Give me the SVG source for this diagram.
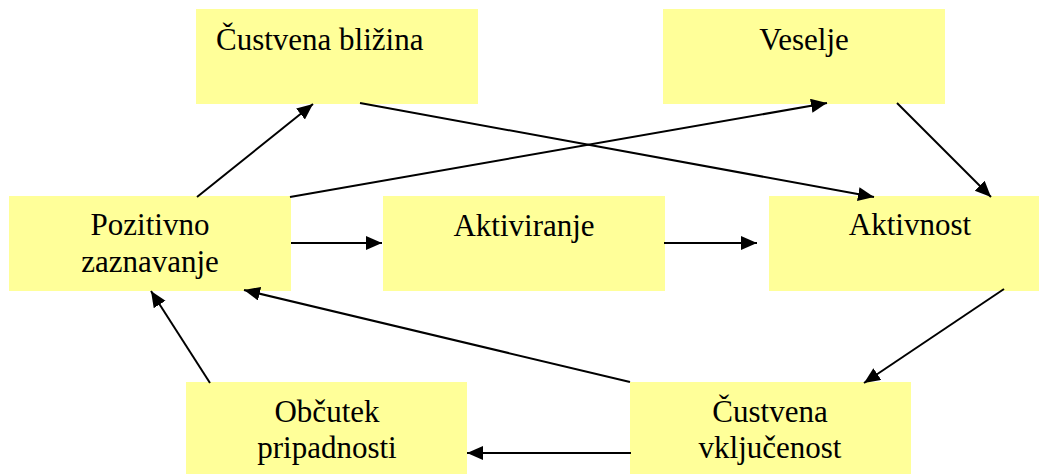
<svg xmlns="http://www.w3.org/2000/svg" width="1039" height="474" viewBox="0 0 1039 474">
  <style>
    .box { fill: #FFFF99; stroke: none; }
    .lbl { font-family: "Liberation Serif", "Times New Roman", serif; font-size: 31px; fill: #000; text-anchor: middle; }
    .edge { stroke: #000; stroke-width: 2; fill: none; marker-end: url(#arrow); }
  </style>
  <defs>
    <marker id="arrow" markerUnits="userSpaceOnUse" markerWidth="17" markerHeight="15" refX="16" refY="7" orient="auto">
      <path d="M0,0 L16,7 L0,14 z" fill="#000"/>
    </marker>
  </defs>
  <rect width="1039" height="474" fill="#fff"/>

  <g id="custvena-blizina">
    <rect class="box" x="196" y="9" width="282" height="95"/>
    <text class="lbl" x="216" y="50" style="text-anchor:start">Čustvena bližina</text>
  </g>
  <g id="veselje">
    <rect class="box" x="663" y="9" width="282" height="95"/>
    <text class="lbl" x="804" y="50">Veselje</text>
  </g>
  <g id="pozitivno-zaznavanje">
    <rect class="box" x="9" y="196" width="282" height="95"/>
    <text class="lbl" x="150" y="235">Pozitivno</text>
    <text class="lbl" x="150" y="272">zaznavanje</text>
  </g>
  <g id="aktiviranje">
    <rect class="box" x="383" y="196" width="282" height="95"/>
    <text class="lbl" x="524" y="236">Aktiviranje</text>
  </g>
  <g id="aktivnost">
    <rect class="box" x="769" y="196" width="282" height="95"/>
    <text class="lbl" x="910" y="235">Aktivnost</text>
  </g>
  <g id="obcutek-pripadnosti">
    <rect class="box" x="186" y="382" width="281" height="92"/>
    <text class="lbl" x="327" y="422">Občutek</text>
    <text class="lbl" x="327" y="458">pripadnosti</text>
  </g>
  <g id="custvena-vkljucenost">
    <rect class="box" x="630" y="382" width="281" height="92"/>
    <text class="lbl" x="770" y="422">Čustvena</text>
    <text class="lbl" x="770" y="458">vključenost</text>
  </g>

  <g id="connectors">
    <line class="edge" x1="197" y1="197" x2="313" y2="104"/>
    <line class="edge" x1="360" y1="103" x2="874" y2="197"/>
    <line class="edge" x1="290" y1="197" x2="827" y2="103"/>
    <line class="edge" x1="897" y1="103" x2="991" y2="197"/>
    <line class="edge" x1="291" y1="243" x2="382" y2="243"/>
    <line class="edge" x1="664" y1="243" x2="757" y2="243"/>
    <line class="edge" x1="1004" y1="289" x2="864" y2="383"/>
    <line class="edge" x1="630" y1="382" x2="244" y2="290"/>
    <line class="edge" x1="210" y1="383" x2="151" y2="291"/>
    <line class="edge" x1="631" y1="453" x2="467" y2="453"/>
  </g>
</svg>
